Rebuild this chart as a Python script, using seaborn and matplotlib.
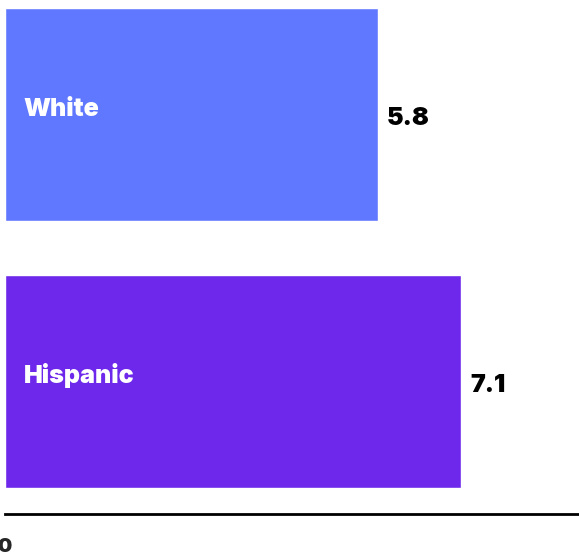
import matplotlib
matplotlib.use("Agg")
import matplotlib.pyplot as plt
import seaborn as sns
import pandas as pd

# values
groups = ["White", "Hispanic"]
values = [5.8, 7.1]
colors = ["#6078FF", "#6D28EB"]

df = pd.DataFrame({"group": groups, "value": values})

sns.set_theme(style="white")
plt.rcParams["font.family"] = ["Inter", "DejaVu Sans"]

fig = plt.figure(figsize=(5.79, 5.59), dpi=100)
ax = fig.add_axes([5 / 579, 45 / 559, 1 - 5 / 579, 1 - 45 / 559])

sns.barplot(data=df, x="value", y="group", hue="group", palette=colors,
            orient="h", width=0.798, legend=False, ax=ax, saturation=1)

ax.set_xlim(0, 8.93)
ax.set_ylim(1.496, -0.429)

for i, (g, v) in enumerate(zip(groups, values)):
    # group name inside the bar, value just past its end
    ax.text(0.29, i + 0.004, g, color="white", fontsize=18, fontweight="black",
            va="baseline", ha="left")
    ax.text(v + 0.14, i + 0.039, f"{v}", color="black", fontsize=18,
            fontweight="black", va="baseline", ha="left")

sns.despine(ax=ax, left=True, top=True, right=True)
ax.spines["bottom"].set_color("black")
ax.spines["bottom"].set_linewidth(2)
ax.set_xticks([0])
ax.set_xticklabels(["0"], fontsize=14.5, fontweight="black")
ax.tick_params(axis="x", length=0, pad=17)
ax.set_yticks([])
ax.set_xlabel("")
ax.set_ylabel("")
ax.set_facecolor("white")
fig.patch.set_facecolor("white")

fig.savefig("out.png", dpi=100)
